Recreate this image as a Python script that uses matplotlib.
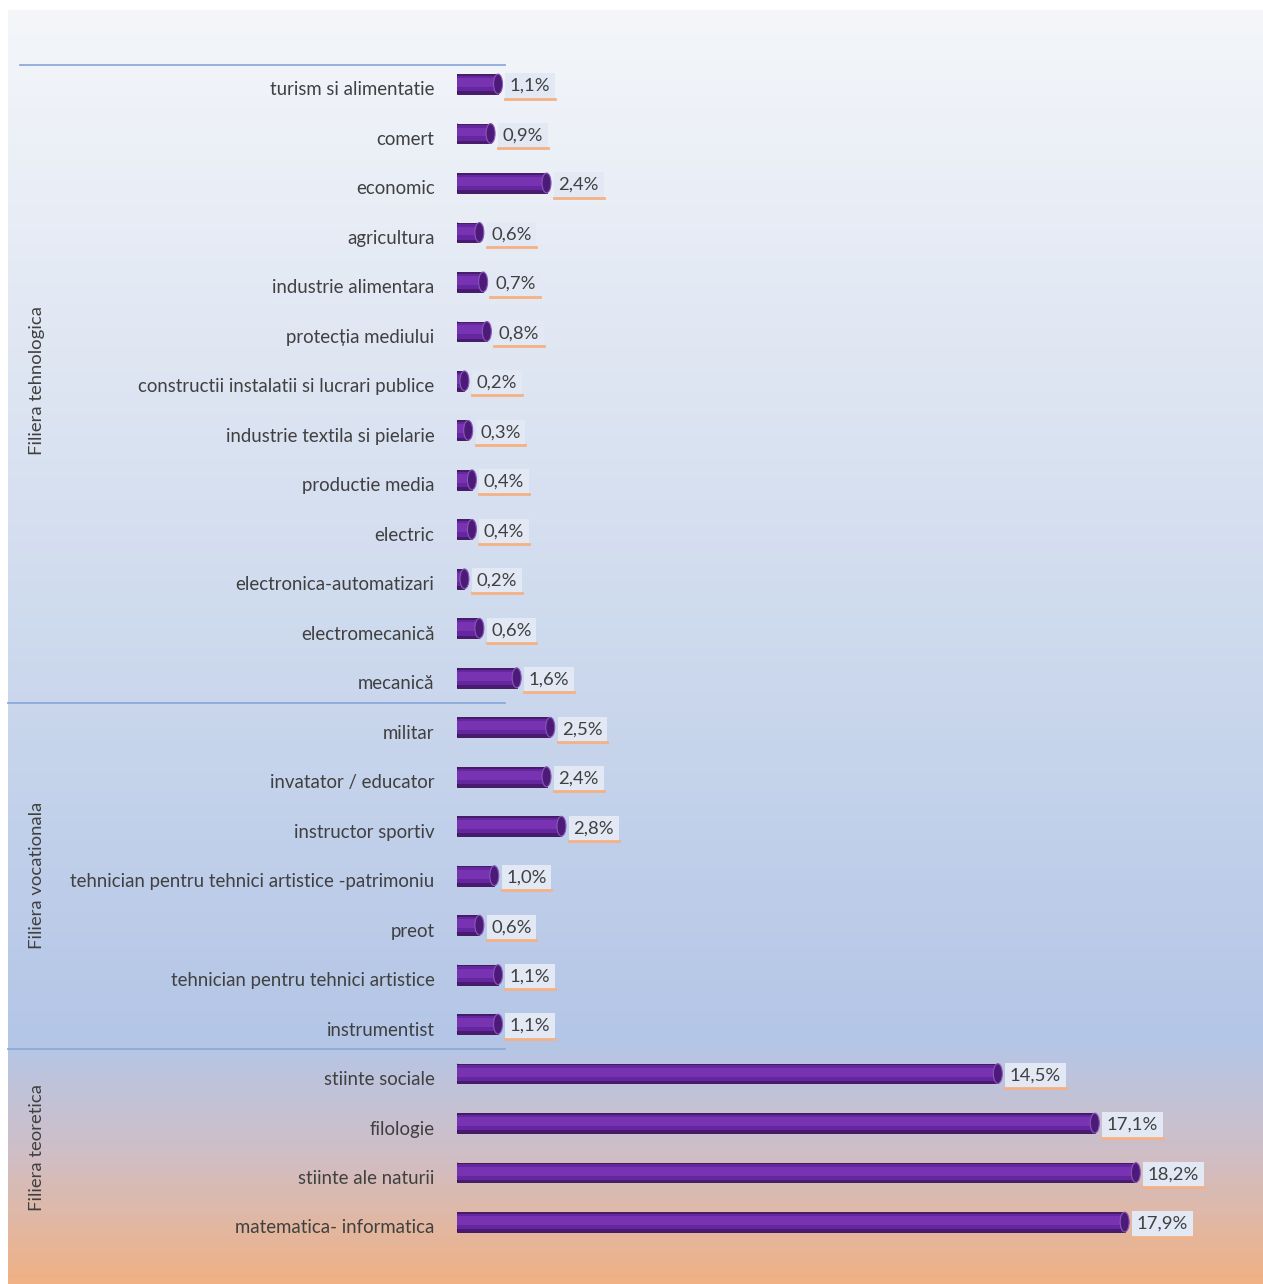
import matplotlib.pyplot as plt
import numpy as np
from matplotlib.colors import LinearSegmentedColormap
from matplotlib.patches import Ellipse
from matplotlib.lines import Line2D

plt.rcParams['font.family'] = ['Lato', 'DejaVu Sans']

# date
categorii = ["turism si alimentatie", "comert", "economic", "agricultura",
             "industrie alimentara", "protecția mediului",
             "constructii instalatii si lucrari publice",
             "industrie textila si pielarie", "productie media", "electric",
             "electronica-automatizari", "electromecanică", "mecanică",
             "militar", "invatator / educator", "instructor sportiv",
             "tehnician pentru tehnici artistice -patrimoniu", "preot",
             "tehnician pentru tehnici artistice", "instrumentist",
             "stiinte sociale", "filologie", "stiinte ale naturii",
             "matematica- informatica"]
procente = [1.1, 0.9, 2.4, 0.6, 0.7, 0.8, 0.2, 0.3, 0.4, 0.4, 0.2, 0.6, 1.6,
            2.5, 2.4, 2.8, 1.0, 0.6, 1.1, 1.1,
            14.5, 17.1, 18.2, 17.9]
filiere = ["Filiera tehnologica", "Filiera vocationala", "Filiera teoretica"]
nr_pe_filiera = [13, 7, 4]

W, H = 1263, 1284
fig = plt.figure(figsize=(W / 100, H / 100), dpi=100)
fig.patch.set_facecolor('white')

# fundal cu gradient
bg = fig.add_axes([8 / W, 0, 1 - 8 / W, 1 - 10 / H])
bg.set_axis_off()
cmap = LinearSegmentedColormap.from_list('fundal', [
    (0.0, '#F4F6FA'), (0.3, '#DDE5F2'), (0.55, '#C9D6EC'),
    (0.81, '#B4C6E7'), (0.9, '#D0BEC6'), (1.0, '#F0B185')])
bg.imshow(np.linspace(0, 1, 256).reshape(-1, 1), aspect='auto', cmap=cmap,
          extent=[0, 1, 1, 0])

# axe principale
y0_px, step_px = 84, 49.48
n = len(categorii)
top_px = y0_px - 0.5 * step_px
ax_h = n * step_px
x0_px = 457
scale = 37.3  # px per procent
ax = fig.add_axes([x0_px / W, 1 - (top_px + ax_h) / H,
                   (W - x0_px) / W, ax_h / H])
ax.set_xlim(0, (W - x0_px) / scale)
ax.set_ylim(n - 0.5, -0.5)
ax.set_axis_off()

y = np.arange(n)
bh = 0.40
cap_w = 9 / scale
# cilindri: straturi de la margine inchisa la centru deschis
ax.barh(y, procente, height=bh, color='#4A1A72', edgecolor='#35104F',
        linewidth=0.6, zorder=2)
ax.barh(y - 0.01, procente, height=bh * 0.78, color='#6527A0',
        linewidth=0, zorder=3)
ax.barh(y - 0.03, procente, height=bh * 0.45, color='#7733B2',
        linewidth=0, zorder=3)
for yi, v in zip(y, procente):
    ax.add_patch(Ellipse((0, yi), cap_w, bh, facecolor='#4A1A72',
                         edgecolor='none', zorder=1))
    ax.add_patch(Ellipse((v, yi), cap_w, bh, facecolor='#4C1B78',
                         edgecolor='#8A58B8', linewidth=0.8, zorder=4))

# etichete valori
val_texts = []
for yi, v in zip(y, procente):
    t = ax.text(v + cap_w / 2 + 0.2, yi + 0.04, f"{v:.1f}%".replace('.', ','),
                va='center', ha='left', fontsize=13.3, color='#404040',
                bbox=dict(boxstyle='square,pad=0.25', fc='#E2E9F5',
                          ec='none'), zorder=5)
    val_texts.append(t)

# etichete categorii
for yi, c in zip(y, categorii):
    ax.text(-0.6, yi + 0.12, c, ha='right', va='center', fontsize=13.4,
            color='#404040', clip_on=False)

# filiere si linii de separare
start = 0
lines_y = [-0.38]
for nume, k in zip(filiere, nr_pe_filiera):
    mid = start + (k - 1) / 2
    ax.text(-11.25, mid, nume, rotation=90, ha='center', va='center',
            fontsize=13.3, color='#404040', clip_on=False)
    start += k
    if start < n:
        lines_y.append(start - 0.5)
for i, ly in enumerate(lines_y):
    xs = 20 if i == 0 else 8
    fy = 1 - (top_px + (ly + 0.5) * step_px) / H
    fig.add_artist(Line2D([xs / W, 505 / W], [fy, fy], color='#8EA9DB',
                          linewidth=1.3, transform=fig.transFigure))

# linie portocalie sub etichete
fig.canvas.draw()
renderer = fig.canvas.get_renderer()
for t in val_texts:
    bb = t.get_bbox_patch().get_window_extent(renderer)
    fig.add_artist(Line2D([bb.x0 / W, bb.x1 / W], [bb.y0 / H, bb.y0 / H],
                          color='#F4B183', linewidth=2,
                          transform=fig.transFigure, zorder=6))

fig.savefig('out.png', dpi=100)
